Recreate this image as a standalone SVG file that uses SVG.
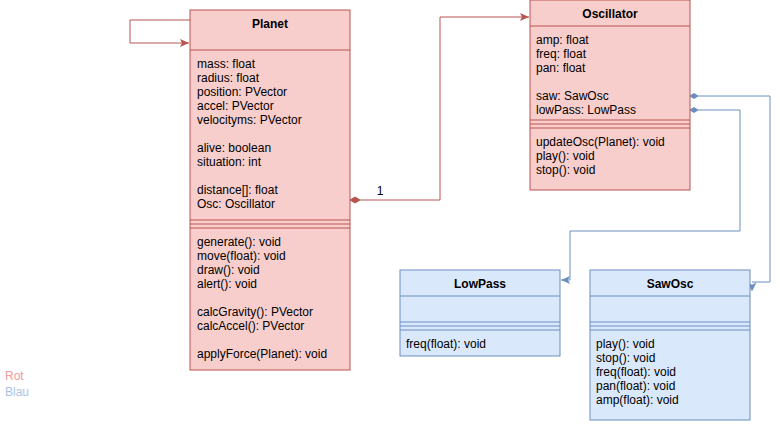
<svg xmlns="http://www.w3.org/2000/svg" width="780" height="441" viewBox="0 0 780 441">
<style>
text{font-family:"Liberation Sans",Arial,sans-serif;font-size:12px;fill:#000}
.t{font-weight:bold;text-anchor:middle}
.r{fill:#f8cecc;stroke:#b85450;stroke-width:1}
.rl{stroke:#b85450;stroke-width:1;fill:none}
.b{fill:#dae8fc;stroke:#6c8ebf;stroke-width:1}
.bl{stroke:#6c8ebf;stroke-width:1;fill:none}
</style>
<defs>
<marker id="ar" markerWidth="10" markerHeight="8" refX="9" refY="4" orient="auto" markerUnits="userSpaceOnUse"><path d="M0,0 L9,4 L0,8 L2,4 Z" fill="#b85450"/></marker>
<marker id="ab" markerWidth="10" markerHeight="8" refX="9" refY="4" orient="auto" markerUnits="userSpaceOnUse"><path d="M0,0 L9,4 L0,8 L2,4 Z" fill="#6c8ebf"/></marker>
</defs>
<rect width="780" height="441" fill="#fff"/>
<g id="connectors">
<path class="rl" d="M190,20 H130 V43 H189" marker-end="url(#ar)"/>
<path class="rl" d="M360,200 H440 V17 H529" marker-end="url(#ar)"/>
<path d="M350,200 L355,197 L360,200 L355,203 Z" fill="#b85450" stroke="#b85450"/>
<text x="380" y="195" text-anchor="middle">1</text>
<path class="bl" d="M698,96 H770 V282 H752"/>
<path d="M748,283 L752,291 L756,283 L752,285 Z" fill="#6c8ebf" stroke="#6c8ebf" stroke-width="0.5"/>
<path d="M690,96 L694,93.5 L698,96 L694,98.5 Z" fill="#6c8ebf" stroke="#6c8ebf"/>
<path class="bl" d="M698,110 H740 V231 H570 V280 H561" marker-end="url(#ab)"/>
<path d="M690,110 L694,107.5 L698,110 L694,112.5 Z" fill="#6c8ebf" stroke="#6c8ebf"/>
</g>
<g id="planet">
<rect class="r" x="190" y="10" width="160" height="360"/>
<line class="rl" x1="190" y1="50" x2="350" y2="50"/>
<line class="rl" x1="190" y1="220" x2="350" y2="220"/>
<line class="rl" x1="190" y1="224" x2="350" y2="224"/>
<line class="rl" x1="190" y1="228" x2="350" y2="228"/>
<text class="t" x="270" y="28">Planet</text>
<text x="197" y="68">mass: float</text>
<text x="197" y="82">radius: float</text>
<text x="197" y="96">position: PVector</text>
<text x="197" y="110">accel: PVector</text>
<text x="197" y="124">velocityms: PVector</text>
<text x="197" y="152">alive: boolean</text>
<text x="197" y="166">situation: int</text>
<text x="197" y="194">distance[]: float</text>
<text x="197" y="208">Osc: Oscillator</text>
<text x="197" y="246">generate(): void</text>
<text x="197" y="260">move(float): void</text>
<text x="197" y="274">draw(): void</text>
<text x="197" y="288">alert(): void</text>
<text x="197" y="316">calcGravity(): PVector</text>
<text x="197" y="330">calcAccel(): PVector</text>
<text x="197" y="358">applyForce(Planet): void</text>
</g>
<g id="oscillator">
<rect class="r" x="530" y="0" width="160" height="190"/>
<line class="rl" x1="530" y1="26" x2="690" y2="26"/>
<line class="rl" x1="530" y1="120" x2="690" y2="120"/>
<line class="rl" x1="530" y1="124" x2="690" y2="124"/>
<line class="rl" x1="530" y1="128" x2="690" y2="128"/>
<text class="t" x="610" y="18">Oscillator</text>
<text x="536" y="44">amp: float</text>
<text x="536" y="58">freq: float</text>
<text x="536" y="72">pan: float</text>
<text x="536" y="100">saw: SawOsc</text>
<text x="536" y="114">lowPass: LowPass</text>
<text x="536" y="146">updateOsc(Planet): void</text>
<text x="536" y="160">play(): void</text>
<text x="536" y="174">stop(): void</text>
</g>
<g id="lowpass">
<rect class="b" x="400" y="270" width="160" height="86"/>
<line class="bl" x1="400" y1="296" x2="560" y2="296"/>
<line class="bl" x1="400" y1="322" x2="560" y2="322"/>
<line class="bl" x1="400" y1="326" x2="560" y2="326"/>
<line class="bl" x1="400" y1="330" x2="560" y2="330"/>
<text class="t" x="480" y="288">LowPass</text>
<text x="406" y="348">freq(float): void</text>
</g>
<g id="sawosc">
<rect class="b" x="590" y="270" width="160" height="150"/>
<line class="bl" x1="590" y1="296" x2="750" y2="296"/>
<line class="bl" x1="590" y1="322" x2="750" y2="322"/>
<line class="bl" x1="590" y1="326" x2="750" y2="326"/>
<line class="bl" x1="590" y1="330" x2="750" y2="330"/>
<text class="t" x="670" y="288">SawOsc</text>
<text x="596" y="348">play(): void</text>
<text x="596" y="362">stop(): void</text>
<text x="596" y="376">freq(float): void</text>
<text x="596" y="390">pan(float): void</text>
<text x="596" y="404">amp(float): void</text>
</g>
<g id="legend">
<text x="5" y="380" fill="#f19c99" style="fill:#f19c99">Rot</text>
<text x="5" y="396" style="fill:#a9c4eb">Blau</text>
</g>
</svg>
